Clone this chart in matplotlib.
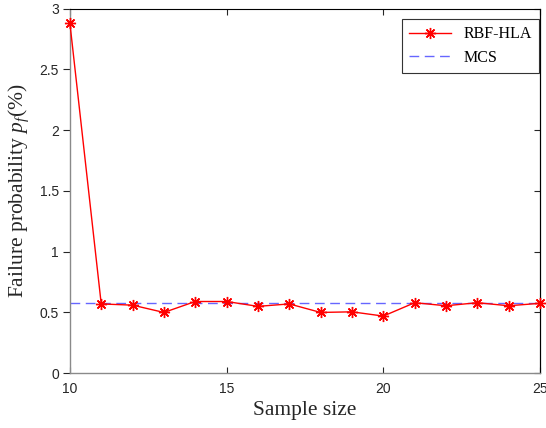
import matplotlib
matplotlib.use("Agg")
import matplotlib.pyplot as plt

plt.rcParams["mathtext.fontset"] = "custom"
plt.rcParams["mathtext.rm"] = "Liberation Serif"
plt.rcParams["mathtext.it"] = "Liberation Serif:italic"

sample_size = [10, 11, 12, 13, 14, 15, 16, 17, 18, 19, 20, 21, 22, 23, 24, 25]
rbf_hla = [2.88, 0.57, 0.56, 0.50, 0.59, 0.59, 0.55, 0.57, 0.50, 0.505, 0.47, 0.58, 0.555, 0.58, 0.555, 0.575]
mcs = 0.575

xticks = [10, 15, 20, 25]
yticks = [0, 0.5, 1, 1.5, 2, 2.5, 3]
ytick_labels = ["0", "0.5", "1", "1.5", "2", "2.5", "3"]

fig = plt.figure(figsize=(5.46, 4.28), dpi=100)
ax = fig.add_axes([0.128, 0.128, 0.861, 0.852])

ax.plot(sample_size, rbf_hla, color="red", lw=1.0, marker=(8, 2, 0), markersize=8,
        markeredgewidth=1.0, label="RBF-HLA", clip_on=False, zorder=3)
ax.axhline(mcs, color="#6666ff", lw=1.0, ls=(0, (7, 4)), label="MCS", zorder=2)

ax.set_xlim(10, 25)
ax.set_ylim(0, 3)
ax.set_xticks(xticks)
ax.set_xticklabels([str(v) for v in xticks])
ax.set_yticks(yticks)
ax.set_yticklabels(ytick_labels)

for lab in ax.get_xticklabels() + ax.get_yticklabels():
    lab.set_fontfamily("Liberation Sans")
    lab.set_fontsize(10)
    lab.set_color("#262626")

ax.tick_params(axis="x", direction="in", length=4, width=0.8, colors="#262626",
               top=True, bottom=True, pad=6)
ax.tick_params(axis="y", which="both", left=True, right=False, direction="out",
               length=5, width=0.8, colors="#262626", pad=3)
# inward ticks on the right side
ax2 = ax.secondary_yaxis("right")
ax2.set_yticks(yticks)
ax2.set_yticklabels([])
ax2.tick_params(direction="in", length=4, width=0.8, colors="#262626")
ax2.spines["right"].set_color("black")
ax2.spines["right"].set_linewidth(0.8)

for side in ["left", "bottom"]:
    ax.spines[side].set_color("#8a8a8a")
    ax.spines[side].set_linewidth(1.0)
for side in ["top", "right"]:
    ax.spines[side].set_color("black")
    ax.spines[side].set_linewidth(0.8)

ax.set_xlabel("Sample size", family="Liberation Serif", fontsize=15.5, color="#262626", labelpad=4)
ax.set_ylabel(r"Failure probability $p_f$(%)", family="Liberation Serif", fontsize=15.5,
              color="#262626", labelpad=6)

leg = ax.legend(loc="upper right", bbox_to_anchor=(0.998, 0.971),
                prop={"family": "Liberation Serif", "size": 11.5},
                frameon=True, fancybox=False, edgecolor="#333333", handlelength=2.6,
                borderpad=0.45, labelspacing=0.45, borderaxespad=0.0, framealpha=1)
leg.get_frame().set_linewidth(0.8)

fig.savefig("out.png", dpi=100)
